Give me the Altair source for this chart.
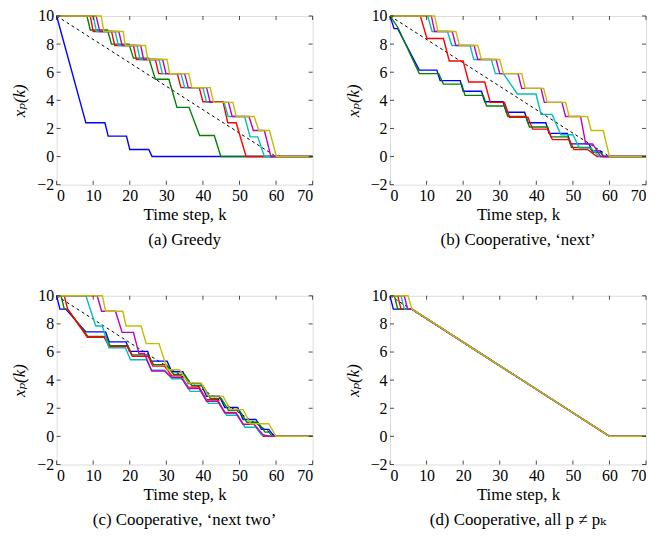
import altair as alt
import pandas as pd

COLORS = ["#0000FF", "#008000", "#FF0000", "#00BFBF", "#BF00BF", "#BFBF00"]
SERIES = ["p1", "p2", "p3", "p4", "p5", "p6"]
X_TICKS = [0, 10, 20, 30, 40, 50, 60, 70]
Y_TICKS = [-2, 0, 2, 4, 6, 8, 10]
REF_K = [0, 60]
REF_X = [10, 0]

# (a) Greedy
A_B = [(0,10),(8,2.4),(13.2,2.4),(14.1,1.45),(19.1,1.45),(20,0.5),(25.2,0.5),(26.1,0),(70,0)]
A_G = [(0,10),(8.3,10),(9.2,9),(13.9,9),(15,8),(19.8,8),(21,7),(25.2,7),(27,5.5),(30.7,5.5),(32.9,3.5),(36.2,3.5),(39.1,1.5),(43.1,1.5),(44.9,0),(70,0)]
A_R = [(0,10),(9.2,10),(10,8.9),(15,8.9),(15.9,7.9),(21,7.9),(21.8,6.9),(27,6.9),(27.9,5.9),(33,5.9),(34,4.9),(39,4.9),(40,3.9),(45.5,3.9),(46.8,2.4),(49.1,2.4),(51.8,0),(70,0)]
A_C = [(0,10),(10,10),(10.9,8.9),(16,8.9),(16.9,7.9),(22,7.9),(22.8,6.9),(28,6.9),(28.9,5.9),(34,5.9),(35,4.9),(40,4.9),(41,3.85),(45.8,3.85),(46.9,2.85),(51.4,2.85),(52.9,1.4),(55,1.4),(56.8,0),(70,0)]
A_M = [(0,10),(10.8,10),(11.8,8.9),(17,8.9),(17.9,7.9),(23,7.9),(23.8,6.9),(29,6.9),(29.9,5.9),(35,5.9),(36,4.9),(41,4.9),(42,3.85),(47,3.85),(48,2.85),(52.6,2.85),(53.8,1.85),(56.8,1.85),(58.6,0),(70,0)]
A_Y = [(0,10),(12.2,10),(12.9,8.9),(18.2,8.9),(18.8,7.9),(24.3,7.9),(24.9,6.9),(30.2,6.9),(30.9,5.9),(36.1,5.9),(37,4.9),(42,4.9),(42.9,3.85),(48.2,3.85),(49.1,2.85),(54,2.85),(55.3,1.85),(58.2,1.85),(60.1,0),(70,0)]

# (b) Cooperative, 'next'
B_B = [(0,10),(1.1,9.1),(2.1,9.1),(8,6.15),(12.8,6.15),(13.7,5.4),(19.2,5.4),(20,4.65),(25,4.65),(25.9,3.9),(30.9,3.9),(31.8,3.15),(36.8,3.15),(37.7,2.4),(42.6,2.4),(43.5,1.65),(48.5,1.65),(49.4,0.9),(54.4,0.9),(55.3,0.4),(57.5,0.4),(58.3,0),(70,0)]
B_G = [(0,10),(2.1,9.2),(8,5.9),(13.3,5.9),(14.6,5.15),(19.6,5.15),(20.5,4.35),(25.5,4.35),(26.4,3.6),(31.3,3.6),(32.2,2.85),(37.2,2.85),(38.1,2.1),(43.1,2.1),(44,1.4),(48.6,1.4),(49.6,0.65),(54.5,0.65),(55.5,0.3),(57.5,0.3),(58.5,0),(70,0)]
B_R = [(0,10),(8.3,10),(10.1,8.4),(14.6,8.4),(16.2,6.8),(20,6.8),(21.5,5.3),(25.9,5.3),(27.4,3.85),(31.3,3.85),(32.7,2.8),(37.7,2.8),(39,1.95),(43.1,1.95),(44.4,1.2),(49,1.2),(50.3,0.5),(54,0.5),(56.6,0),(70,0)]
B_C = [(0,10),(10.3,10),(11.5,8.9),(15.7,8.9),(16.9,7.9),(21.9,7.9),(22.9,6.9),(27.7,6.9),(28.8,5.9),(31,5.9),(34.8,4.45),(39.9,4.45),(41.3,3.0),(44.3,3.0),(46.7,1.55),(50,1.55),(51.8,0.6),(55,0.6),(57.2,0),(70,0)]
B_M = [(0,10),(11.3,10),(12.2,8.9),(17,8.9),(18,7.9),(23,7.9),(24,6.9),(29,6.9),(30,5.9),(35,5.9),(36,4.85),(41.3,4.85),(42.2,3.85),(47,3.85),(48,2.85),(52.1,2.85),(53.5,0.9),(55.4,0.9),(57.6,0),(70,0)]
B_Y = [(0,10),(12.2,10),(13.1,8.9),(18,8.9),(19,7.9),(24,7.9),(25,6.9),(30,6.9),(31,5.9),(36,5.9),(37,4.85),(42,4.85),(43,3.85),(48,3.85),(49,2.85),(54,2.85),(55,1.85),(58.3,1.85),(60,0),(70,0)]

# (c) Cooperative, 'next two'
C_B = [(0,10),(0.9,9.05),(2.5,9.05),(8,7.43),(13.4,7.43),(14.4,6.72),(19,6.72),(19.9,6.05),(24.9,6.05),(25.8,5.35),(30.2,5.35),(31.5,4.6),(34.5,4.6),(36,3.75),(39.5,3.75),(41,2.85),(44.5,2.85),(46,2.05),(49.5,2.05),(51,1.2),(54.5,1.2),(56,0.5),(58,0.5),(59.5,0),(70,0)]
C_G = [(0,10),(1.2,10),(2.1,9.05),(3,9.05),(8.6,7.1),(13.5,7.1),(14.6,6.45),(19.5,6.45),(20.6,5.8),(25,5.8),(26.5,5.1),(30,5.1),(32,4.4),(35,4.4),(37,3.6),(40,3.6),(42,2.7),(45,2.7),(47,1.85),(50,1.85),(52,1.0),(55,1.0),(57,0.3),(58,0.3),(59,0),(70,0)]
C_R = [(0,10),(2.1,10),(3,9.05),(8.4,7.05),(13,7.05),(14.3,6.4),(19.3,6.4),(20.7,5.7),(25,5.7),(26.3,5.0),(29.5,5.0),(31.5,4.3),(34,4.3),(36,3.5),(39,3.5),(41,2.6),(44,2.6),(46,1.65),(49,1.65),(51,0.85),(54,0.85),(56.5,0),(70,0)]
C_C = [(0,10),(8,10),(10.7,7.85),(12.5,7.85),(14.3,6.3),(18.8,6.3),(20.2,5.45),(24.5,5.45),(26,4.7),(29.5,4.7),(31.5,4.1),(34.5,4.1),(36.5,3.2),(39.5,3.2),(41.5,2.35),(44.5,2.35),(46.5,1.5),(49.5,1.5),(51.5,0.65),(54.5,0.65),(56,0.1),(58.5,0),(70,0)]
C_M = [(0,10),(11.1,10),(12.3,8.9),(16.1,8.9),(17.9,7.4),(21,7.4),(22.5,5.9),(24,5.9),(26,4.65),(29.5,4.65),(31.5,4.2),(34,4.2),(36,3.4),(39,3.4),(41,2.5),(44,2.5),(46,1.7),(49,1.7),(51,0.85),(54,0.85),(56.5,0.1),(58.5,0),(70,0)]
C_Y = [(0,10),(12.5,10),(13.4,8.9),(18.1,8.9),(19,7.85),(23.1,7.85),(24.5,6.6),(28,6.6),(30.3,4.74),(33.6,4.74),(36,3.8),(39.5,3.8),(41.5,2.86),(45.5,2.86),(47.5,1.9),(51,1.9),(53,0.9),(58,0.9),(60,0),(70,0)]

# (d) Cooperative, all p != p_k
D_B = [(0,10),(0.9,9.05),(6,9.05),(60,0),(70,0)]
D_G = [(0,10),(1.2,10),(2.1,9.05),(6,9.05),(60,0),(70,0)]
D_R = [(0,10),(2.1,10),(3,9.05),(6,9.05),(60,0),(70,0)]
D_C = [(0,10),(3,10),(3.9,9.05),(6,9.05),(60,0),(70,0)]
D_M = [(0,10),(3.9,10),(4.8,9.05),(6,9.05),(60,0),(70,0)]
D_Y = [(0,10),(4.9,10),(6,9.05),(60,0),(70,0)]

CAPTIONS = ["(a) Greedy", "(b) Cooperative, \u2018next\u2019",
            "(c) Cooperative, \u2018next two\u2019", "(d) Cooperative, all p \u2260 p\u2096"]
X_TITLE = "Time step, k"
Y_TITLE = "x\u209a(k)"

FONT = "'Liberation Serif', 'Times New Roman', Times, 'DejaVu Serif', serif"
W, H = 258, 170


def panel(series, caption):
    rows = []
    for s, pts in zip(SERIES, series):
        for i, (k, v) in enumerate(pts):
            rows.append({"k": k, "x": v, "s": s, "o": i})
    df = pd.DataFrame(rows)
    xs = alt.Scale(domain=[0, 70], nice=False, zero=False)
    ys = alt.Scale(domain=[-2, 10], nice=False, zero=False)
    xax = alt.Axis(values=X_TICKS, title=X_TITLE, domain=False, ticks=False, grid=False,
                   labelFont=FONT, labelFontSize=16, labelColor="black", labelPadding=3,
                   titleFont=FONT, titleFontSize=17, titleFontWeight=400, titleColor="black",
                   titlePadding=3)
    yax = alt.Axis(values=Y_TICKS, title=Y_TITLE, domain=False, ticks=False, grid=False,
                   labelFont=FONT, labelFontSize=16, labelColor="black", labelPadding=3,
                   titleFont=FONT, titleFontSize=17, titleFontWeight=400, titleColor="black",
                   titleFontStyle="italic", titlePadding=8)
    X = alt.X("k:Q", scale=xs, axis=xax)
    Y = alt.Y("x:Q", scale=ys, axis=yax)
    ref = alt.Chart(pd.DataFrame({"k": REF_K, "x": REF_X})).mark_line(
        color="black", strokeDash=[3, 3], strokeWidth=1).encode(x=X, y=Y)
    lines = alt.Chart(df).mark_line(strokeWidth=1.4).encode(
        x=X, y=Y,
        color=alt.Color("s:N", scale=alt.Scale(domain=SERIES, range=COLORS), legend=None),
        order="o:Q")
    xt = pd.DataFrame({"k": X_TICKS})
    yt = pd.DataFrame({"x": Y_TICKS})
    tick = dict(color="black", thickness=1, size=4)
    xb = alt.Chart(xt).mark_tick(orient="vertical", **tick).encode(x=X, y=alt.value(H - 2))
    xtp = alt.Chart(xt).mark_tick(orient="vertical", **tick).encode(x=X, y=alt.value(2))
    yl = alt.Chart(yt).mark_tick(orient="horizontal", **tick).encode(y=Y, x=alt.value(2))
    yr = alt.Chart(yt).mark_tick(orient="horizontal", **tick).encode(y=Y, x=alt.value(W - 2))
    return alt.layer(ref, lines, xb, xtp, yl, yr).properties(
        width=W, height=H,
        title=alt.TitleParams(caption, orient="bottom", font=FONT, fontSize=17,
                              fontWeight=400, color="black", offset=10, anchor="middle"))


pa = panel([A_B, A_G, A_R, A_C, A_M, A_Y], CAPTIONS[0])
pb = panel([B_B, B_G, B_R, B_C, B_M, B_Y], CAPTIONS[1])
pc = panel([C_B, C_G, C_R, C_C, C_M, C_Y], CAPTIONS[2])
pd_ = panel([D_B, D_G, D_R, D_C, D_M, D_Y], CAPTIONS[3])

chart = alt.vconcat(
    alt.hconcat(pa, pb, spacing=27),
    alt.hconcat(pc, pd_, spacing=27),
    spacing=38,
).properties(
    padding={"left": 2, "top": -3, "right": 0, "bottom": 0}
).configure_view(stroke="black", strokeWidth=1).configure(background="white")

chart.save("out.html", embed_options={"renderer": "svg", "actions": False})
